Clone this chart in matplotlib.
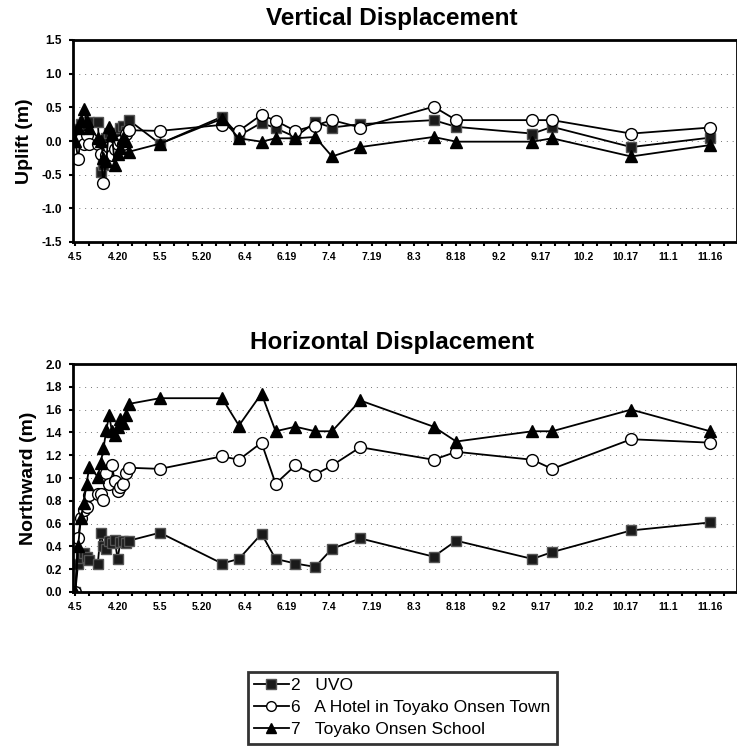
from datetime import date

import matplotlib
matplotlib.use("Agg")
from matplotlib import pyplot as plt
from matplotlib.ticker import MultipleLocator

plt.rcParams['font.family'] = ['Liberation Sans', 'DejaVu Sans']

# survey dates (month.day, year 2000)
dates = ['4.5', '4.6', '4.7', '4.8', '4.9', '4.10', '4.13', '4.14', '4.15',
         '4.16', '4.17', '4.18', '4.19', '4.20', '4.21', '4.22', '4.23', '4.24',
         '5.5', '5.27', '6.2', '6.10', '6.15', '6.22', '6.29', '7.5', '7.15',
         '8.10', '8.18', '9.14', '9.21', '10.19', '11.16']

tick_dates = ['4.5', '4.20', '5.5', '5.20', '6.4', '6.19', '7.4', '7.19', '8.3',
              '8.18', '9.2', '9.17', '10.2', '10.17', '11.1', '11.16']

# uplift (m)
up_uvo = [0.0, 0.18, 0.25, 0.28, 0.22, 0.28, 0.28, -0.46, -0.35, 0.05, 0.12,
          0.02, 0.10, 0.12, 0.20, 0.22, 0.15, 0.31, -0.04, 0.36, 0.08, 0.27,
          0.19, 0.06, 0.28, 0.20, 0.25, 0.31, 0.21, 0.11, 0.21, -0.09, 0.05]
up_hotel = [0.0, -0.26, 0.05, -0.05, 0.09, -0.04, -0.04, -0.20, -0.63, -0.21,
            -0.09, -0.21, -0.12, -0.05, 0.0, -0.05, 0.10, 0.16, 0.15, 0.24, 0.15,
            0.39, 0.30, 0.15, 0.23, 0.31, 0.20, 0.51, 0.31, 0.31, 0.31, 0.11, 0.20]
up_school = [0.0, 0.20, 0.30, 0.48, 0.30, 0.20, 0.05, 0.0, -0.25, -0.29, 0.21,
             0.10, -0.36, -0.20, -0.10, 0.05, 0.0, -0.16, -0.04, 0.33, 0.04,
             -0.01, 0.04, 0.04, 0.06, -0.23, -0.09, 0.06, -0.01, -0.01, 0.04,
             -0.23, -0.06]

# northward (m)
nw_uvo = [0.0, 0.25, 0.30, 0.34, 0.31, 0.28, 0.25, 0.52, 0.40, 0.38, 0.45,
          0.43, 0.46, 0.29, 0.44, 0.45, 0.43, 0.45, 0.52, 0.25, 0.29, 0.51,
          0.29, 0.25, 0.22, 0.38, 0.47, 0.31, 0.45, 0.29, 0.35, 0.54, 0.61]
nw_hotel = [0.0, 0.47, 0.65, 0.72, 0.75, 0.85, 0.86, 0.86, 0.81, 1.04, 0.95,
            1.11, 0.97, 0.89, 0.92, 0.95, 1.04, 1.09, 1.08, 1.19, 1.16, 1.31,
            0.95, 1.11, 1.03, 1.11, 1.27, 1.16, 1.23, 1.16, 1.08, 1.34, 1.31]
nw_school = [0.0, 0.40, 0.65, 0.78, 0.95, 1.10, 1.01, 1.13, 1.26, 1.42, 1.55,
             1.41, 1.38, 1.45, 1.52, 1.48, 1.55, 1.65, 1.70, 1.70, 1.46, 1.74,
             1.41, 1.45, 1.41, 1.41, 1.68, 1.45, 1.32, 1.41, 1.41, 1.60, 1.41]

labels = ['2   UVO', '6   A Hotel in Toyako Onsen Town', '7   Toyako Onsen School']


def to_day(s):
    m, d = s.split('.')
    return (date(2000, int(m), int(d)) - date(2000, 4, 5)).days


x = [to_day(s) for s in dates]
xt = [to_day(s) for s in tick_dates]

styles = [dict(marker='s', mfc='#1a1a1a', mec='#555555', ms=7.5),
          dict(marker='o', mfc='white', mec='black', ms=8.5),
          dict(marker='^', mfc='black', mec='black', ms=8.5)]

fig = plt.figure(figsize=(7.37, 7.48), dpi=100)
ax1 = fig.add_axes([73 / 737, 1 - 242 / 748, 664 / 737, 202 / 748])
ax2 = fig.add_axes([73 / 737, 1 - 592 / 748, 664 / 737, 228 / 748])


def setup(ax, title, ylabel):
    ax.set_xlim(-0.8, 234.5)
    ax.set_xticks(xt)
    ax.set_xticklabels(tick_dates, fontsize=7.5, fontweight='bold')
    ax.xaxis.set_minor_locator(MultipleLocator(5))
    ax.tick_params(axis='x', which='both', direction='out', length=3, width=1.5, pad=4)
    ax.tick_params(axis='y', which='major', direction='out', length=3, width=1.5,
                   labelsize=8.5, pad=5)
    for lab in ax.get_yticklabels():
        lab.set_fontweight('bold')
    ax.grid(axis='y', linestyle=(0, (1, 5)), color='#777777', linewidth=0.7)
    for sp in ax.spines.values():
        sp.set_linewidth(2)
    ax.set_title(title, fontsize=17.5, fontweight='bold', pad=11, x=0.48)
    ax.set_ylabel(ylabel, fontsize=14, fontweight='bold', labelpad=6)


for ys, st, lab in zip([up_uvo, up_hotel, up_school], styles, labels):
    ax1.plot(x, ys, color='black', lw=1.3, label=lab, **st)
ax1.set_ylim(-1.5, 1.5)
ax1.set_yticks([-1.5, -1.0, -0.5, 0.0, 0.5, 1.0, 1.5])
ax1.set_yticklabels(['-1.5', '-1.0', '-0.5', '0.0', '0.5', '1.0', '1.5'])
setup(ax1, 'Vertical Displacement', 'Uplift (m)')

for ys, st, lab in zip([nw_uvo, nw_hotel, nw_school], styles, labels):
    ax2.plot(x, ys, color='black', lw=1.3, label=lab, **st)
ax2.set_ylim(0, 2.0)
yt = [i * 0.2 for i in range(11)]
ax2.set_yticks(yt)
ax2.set_yticklabels(['%.1f' % v for v in yt])
setup(ax2, 'Horizontal Displacement', 'Northward (m)')

h, l = ax2.get_legend_handles_labels()
leg = fig.legend(h, l, loc='upper left', bbox_to_anchor=(248 / 737, 1 - 672 / 748),
                 fontsize=12.5, frameon=True, fancybox=False, edgecolor='black',
                 handlelength=2.0, handletextpad=0.15, labelspacing=0.4,
                 borderpad=0.35, borderaxespad=0)
leg.get_frame().set_linewidth(2)
for hd in leg.legend_handles:
    hd.set_markersize(7)

fig.savefig('out.png', dpi=100)
